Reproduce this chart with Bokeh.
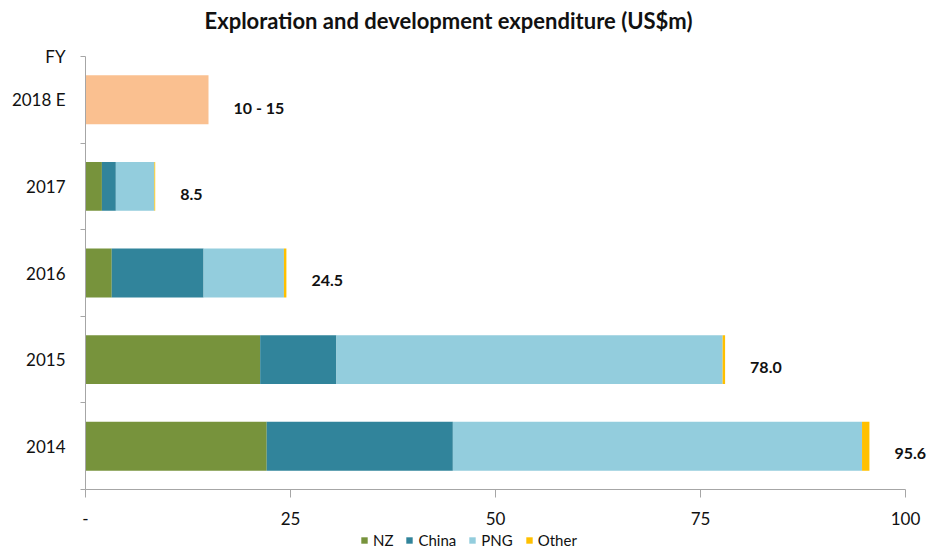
from bokeh.plotting import figure
from bokeh.layouts import column
from bokeh.models import (ColumnDataSource, Range1d, FixedTicker, Legend, LegendItem, LabelSet, Label)
from bokeh.core.properties import value
from bokeh.embed import file_html
from bokeh.resources import INLINE

# ---- data ----
title_text = "Exploration and development expenditure (US$m)"
years = ["2014", "2015", "2016", "2017", "2018 E"]
nz = [22.1, 21.3, 3.2, 2.0, 0.0]
china = [22.7, 9.3, 11.2, 1.7, 0.0]
png = [49.9, 47.1, 9.8, 4.7, 0.0]
other = [0.9, 0.3, 0.3, 0.1, 0.0]
estimate = [0.0, 0.0, 0.0, 0.0, 15.0]
value_labels = ["95.6", "78.0", "24.5", "8.5", "10 - 15"]
x_ticks = [0, 25, 50, 75, 100]
x_tick_labels = ["-", "25", "50", "75", "100"]
series_names = ["NZ", "China", "PNG", "Other"]
colors = ["#77933C", "#31849B", "#93CDDD", "#FFC000"]
estimate_color = "#FAC090"

FONT = "Lato"
AXIS_GREY = "#A6A6A6"
TEXT = "#111111"

ypos = [i + 0.5 for i in range(len(years))]
totals = [a + b + c + d + e for a, b, c, d, e in zip(nz, china, png, other, estimate)]

src = ColumnDataSource(dict(
    y=ypos, NZ=nz, China=china, PNG=png, Other=other, Estimate=estimate,
    total=totals, lab=value_labels,
    ylab=[y - 0.09 for y in ypos],
))

# ---- title strip ----
tp = figure(width=938, height=40, output_backend="svg", toolbar_location=None, title=None,
            x_range=Range1d(0, 1), y_range=Range1d(0, 1),
            min_border=0, x_axis_location=None, y_axis_location=None)
tp.outline_line_color = None
tp.grid.visible = False
tp.add_layout(Label(x=119, y=20, x_units="screen", y_units="screen", text=title_text,
                    text_font=FONT, text_font_style="bold", text_font_size="22px",
                    text_color=TEXT, text_baseline="middle", text_align="left"))

# ---- main chart ----
# frame spans 85..930 px, while the axis scale ends at 100 (905 px)
x_max = x_ticks[-1] * (930 - 85) / (905 - 85)

p = figure(width=938, height=488, output_backend="svg", toolbar_location=None, title=None,
           x_range=Range1d(0, x_max), y_range=Range1d(0, len(years)),
           min_border_left=85, min_border_right=8, min_border_top=16, min_border_bottom=39)
p.outline_line_color = None
p.grid.visible = False

renderers = p.hbar_stack(["NZ", "China", "PNG", "Other", "Estimate"], y="y", height=0.565,
                         color=colors + [estimate_color], line_color=None, source=src)

labels = LabelSet(x="total", y="ylab", text="lab", source=src, x_offset=25,
                  text_font=value(FONT), text_font_style="bold", text_font_size="16px",
                  text_baseline="middle", text_align="left", text_color=TEXT)
p.add_layout(labels)

# y axis
yax = p.yaxis[0]
yticks = ypos + [float(len(years))]
yax.ticker = FixedTicker(ticks=yticks, minor_ticks=list(range(len(years) + 1)))
overrides = {y: lab for y, lab in zip(ypos, years)}
overrides[float(len(years))] = "FY"
yax.major_label_overrides = overrides
yax.major_tick_out = 0
yax.major_tick_in = 0
yax.minor_tick_out = 5
yax.minor_tick_in = 0
yax.minor_tick_line_color = AXIS_GREY
yax.axis_line_color = AXIS_GREY
yax.major_label_text_font = FONT
yax.major_label_text_font_size = "17px"
yax.major_label_text_color = TEXT
yax.major_label_standoff = 15

# x axis
xax = p.xaxis[0]
xax.bounds = (x_ticks[0], x_ticks[-1])
xax.ticker = FixedTicker(ticks=x_ticks, minor_ticks=[])
xax.major_label_overrides = {t: l for t, l in zip(x_ticks, x_tick_labels)}
xax.major_tick_out = 8
xax.major_tick_in = 0
xax.major_tick_line_color = AXIS_GREY
xax.axis_line_color = AXIS_GREY
xax.major_label_text_font = FONT
xax.major_label_text_font_size = "17px"
xax.major_label_text_color = TEXT
xax.major_label_standoff = 14

# ---- legend strip below the chart (swatch glyphs sit outside the visible range) ----
lp = figure(width=938, height=24, output_backend="svg", toolbar_location=None, title=None,
            x_range=Range1d(0, 1), y_range=Range1d(0, 1),
            min_border=0, x_axis_location=None, y_axis_location=None)
lp.outline_line_color = None
lp.grid.visible = False
swatches = [lp.hbar(y=[-5], left=[0], right=[1], height=1, color=c, line_color=None) for c in colors]
legend = Legend(items=[LegendItem(label=n, renderers=[r]) for n, r in zip(series_names, swatches)],
                orientation="horizontal", location=(275, 3),
                label_text_font=FONT, label_text_font_size="15px", label_text_color=TEXT,
                glyph_width=8, glyph_height=8, label_standoff=5, spacing=12,
                padding=0, margin=0, border_line_color=None, background_fill_alpha=0)
lp.add_layout(legend)

layout = column(tp, p, lp, spacing=0)
open("out.html", "w").write(file_html(layout, INLINE))
